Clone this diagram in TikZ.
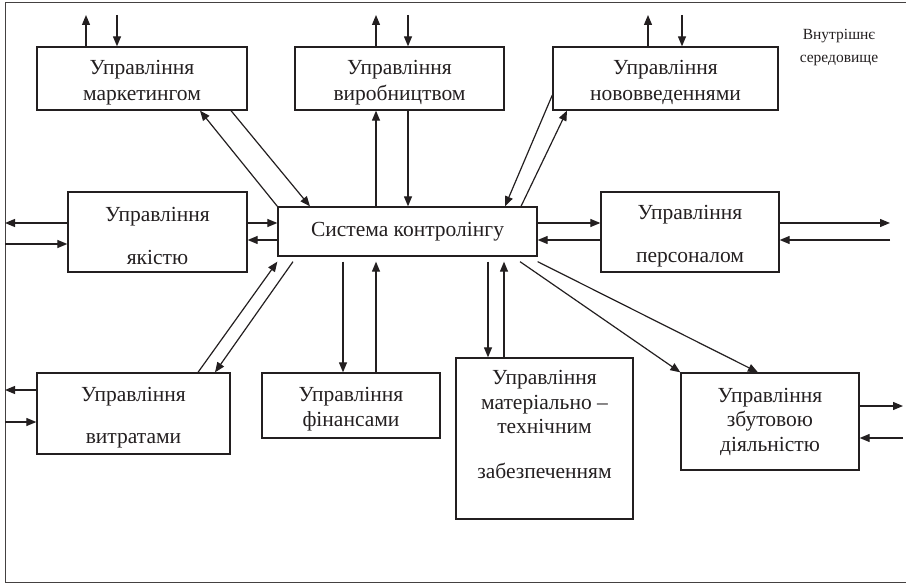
\documentclass[tikz,border=0pt]{standalone}
\usepackage{fontspec}
\setmainfont{Liberation Serif}
\usetikzlibrary{arrows.meta}
\definecolor{ink}{HTML}{231F20}
\newcommand{\topstrut}{\rule{0pt}{22pt}}
\begin{document}
\begin{tikzpicture}[x=1pt,y=-1pt,
  box/.style={draw=ink, line width=1.3pt, inner sep=0pt, align=center, text=ink,
              font=\fontsize{21.5}{26}\selectfont},
  tight/.style={font=\fontsize{21.5}{24.5}\selectfont},
  arr/.style={draw=ink, line width=1.2pt, -{Triangle[length=10pt,width=8pt]}},
  frame/.style={draw=ink!85, line width=1pt}]
\useasboundingbox (0,0) rectangle (906,583);

% outer frame of the internal environment
\draw[frame] (906,3) -- (5,3) -- (5,582) -- (906,582);

% management units
\node[box, minimum width=210pt, minimum height=63pt] (mkt) at (142,78.5) {\topstrut Управління\\маркетингом};
\node[box, minimum width=209pt, minimum height=63pt] (vyr) at (399.5,78.5) {\topstrut Управління\\виробництвом};
\node[box, minimum width=225pt, minimum height=63pt] (nov) at (665.5,78.5) {\topstrut Управління\\нововведеннями};
\node[box, minimum width=179pt, minimum height=80pt] (yak) at (157.5,232) {\topstrut Управління\\[17pt]якістю};
\node[box, minimum width=259pt, minimum height=49pt] (sys) at (407.5,231.5) {Система контролінгу};
\node[box, minimum width=178pt, minimum height=80pt] (pers) at (690,232) {\topstrut Управління\\[17pt]персоналом};
\node[box, minimum width=193pt, minimum height=81pt] (vytr) at (133.5,413.5) {\topstrut Управління\\[16pt]витратами};
\node[box, font=\fontsize{21.5}{25.5}\selectfont, minimum width=178pt, minimum height=65pt] (fin) at (351,405.5)
  {\topstrut Управління\\фінансами};
\node[box, tight, minimum width=177pt, minimum height=161pt] (mat) at (544.5,438.5)
  {Управління\\матеріально –\\технічним\\[20pt]забезпеченням\\[4pt]\mbox{}};
\node[box, tight, minimum width=178pt, minimum height=97pt] (zbut) at (770,421.5) {Управління\\збутовою\\діяльністю};

\node[align=center, text=ink, font=\fontsize{15.5}{23}\selectfont] (env) at (839,47.5) {Внутрішнє\\середовище};

% free ends of the external links
\coordinate (mktU) at (86,15);   \coordinate (mktD) at (117,15);
\coordinate (vyrU) at (376,15);  \coordinate (vyrD) at (408,15);
\coordinate (novU) at (648,15);  \coordinate (novD) at (682,15);
\coordinate (yakO) at (5,223);   \coordinate (yakI) at (5,244);
\coordinate (persO) at (890,223); \coordinate (persI) at (890,240);
\coordinate (vytrO) at (5,390);  \coordinate (vytrI) at (5,422);
\coordinate (zbutO) at (903,406); \coordinate (zbutI) at (903,438);

% external links of the top units
\draw[arr] (mkt.north -| mktU) -- (mktU);
\draw[arr] (mktD) -- (mkt.north -| mktD);
\draw[arr] (vyr.north -| vyrU) -- (vyrU);
\draw[arr] (vyrD) -- (vyr.north -| vyrD);
\draw[arr] (nov.north -| novU) -- (novU);
\draw[arr] (novD) -- (nov.north -| novD);

% external links of the side units
\draw[arr] (yak.west |- yakO) -- (yakO);
\draw[arr] (yakI) -- (yak.west |- yakI);
\draw[arr] (pers.east |- persO) -- (persO);
\draw[arr] (persI) -- (pers.east |- persI);
\draw[arr] (vytr.west |- vytrO) -- (vytrO);
\draw[arr] (vytrI) -- (vytr.west |- vytrI);
\draw[arr] (zbut.east |- zbutO) -- (zbutO);
\draw[arr] (zbutI) -- (zbut.east |- zbutI);

% links with the controlling system
\draw[arr] (mkt.south -| 231,0) -- (sys.north -| 310,0);
\draw[arr] (sys.north west) -- (mkt.south -| 200,0);
\draw[arr] (sys.north -| vyrU) -- (vyr.south -| vyrU);
\draw[arr] (vyr.south -| vyrD) -- (sys.north -| vyrD);
\draw[arr] (nov.west |- 0,95) -- (sys.north -| 505,0);
\draw[arr] (sys.north -| 521,0) -- (nov.south -| 567,0);

\draw[arr] (yak.east |- yakO) -- (sys.west |- yakO);
\draw[arr] (sys.west |- 0,240) -- (yak.east |- 0,240);
\draw[arr] (sys.east |- yakO) -- (pers.west |- yakO);
\draw[arr] (pers.west |- 0,240) -- (sys.east |- 0,240);

\draw[arr] (vytr.north -| 198,0) -- ([yshift=-5pt]sys.south west);
\draw[arr] ([yshift=-5pt]sys.south -| 293,0) -- (vytr.north -| 215,0);
\draw[arr] ([yshift=-5pt]sys.south -| 343,0) -- (fin.north -| 343,0);
\draw[arr] (fin.north -| 376,0) -- ([yshift=-5pt]sys.south -| 376,0);
\draw[arr] ([yshift=-5pt]sys.south -| 488,0) -- (mat.north -| 488,0);
\draw[arr] (mat.north -| 504,0) -- ([yshift=-5pt]sys.south -| 504,0);
\draw[arr] ([yshift=-5pt]sys.south -| 520,0) -- (zbut.north west);
\draw[arr] ([yshift=-5pt]sys.south east) -- (zbut.north -| 758,0);
\end{tikzpicture}
\end{document}
